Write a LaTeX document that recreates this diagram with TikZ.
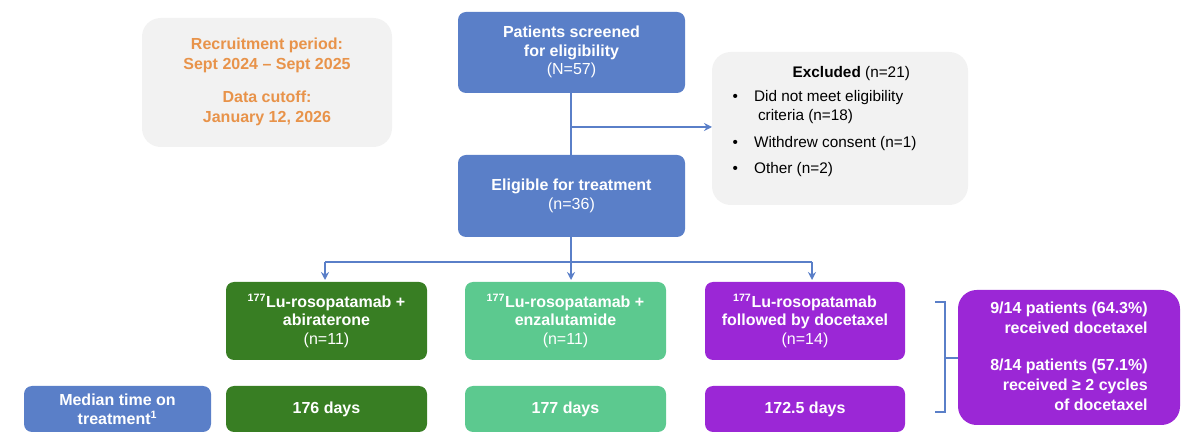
\documentclass[tikz,border=0pt]{standalone}
\usepackage{fontspec}
\setmainfont{Liberation Sans}
\usetikzlibrary{arrows.meta}
\definecolor{bl}{HTML}{5A7FC8}
\definecolor{gr}{HTML}{F2F2F2}
\definecolor{org}{HTML}{E8934A}
\definecolor{dg}{HTML}{387E23}
\definecolor{lg}{HTML}{5CC98F}
\definecolor{pu}{HTML}{9B27D6}
\definecolor{ln}{HTML}{5A7FC8}
\begin{document}
\begin{tikzpicture}[x=0.75pt,y=-0.75pt,
 box/.style={draw=none,rounded corners=6pt,text=white,align=center,font=\fontsize{12}{14}\selectfont},
 arr/.style={draw=ln,line width=1.5pt,-{Stealth[length=6pt,width=6pt]}}]
\useasboundingbox (0,0) rectangle (1200,441);
\fill[gr,rounded corners=14pt] (142,18) rectangle (392,147);
\node[align=center,text=org,font=\fontsize{12}{15}\selectfont\bfseries] (rec) at (267,82)
 {Recruitment period:\\Sept 2024 -- Sept 2025\\[10pt]Data cutoff:\\January 12, 2026};
\fill[bl,rounded corners=6pt] (458,12) rectangle (685,93);
\node[box] (scr) at (571.5,52) {\textbf{Patients screened}\\\textbf{for eligibility}\\(N=57)};
\fill[gr,rounded corners=14pt] (712,52) rectangle (968,205);
\node[align=left,anchor=north west,font=\fontsize{11.5}{14}\selectfont] (exc) at (728,62)
 {\hspace*{45pt}\textbf{Excluded} (n=21)\\[4pt]
 \textbullet\hspace{12pt}Did not meet eligibility\\\hspace*{19pt}criteria (n=18)\\[6pt]
 \textbullet\hspace{12pt}Withdrew consent (n=1)\\[6pt]
 \textbullet\hspace{12pt}Other (n=2)};
\fill[bl,rounded corners=6pt] (458,155) rectangle (685,237);
\node[box] (eli) at (571.5,196) {\textbf{Eligible for treatment}\\(n=36)};
\coordinate (s1) at (571,93); \coordinate (s2) at (571,155);
\coordinate (m) at (571,127); \coordinate (ex) at (712,127);
\draw[draw=ln,line width=1.5pt] (s1) -- (s2);
\draw[arr] (m) -- (ex);
\coordinate (e1) at (571,237); \coordinate (e2) at (571,262);
\coordinate (hl) at (325,262); \coordinate (hr) at (812,262);
\draw[draw=ln,line width=1.5pt] (e1)--(e2) (hl)--(hr);
\coordinate (a1) at (325,280); \coordinate (a2) at (571,280); \coordinate (a3) at (812,280);
\draw[arr] (hl)--(a1); \draw[arr] (e2)--(a2); \draw[arr] (hr)--(a3);
\fill[dg,rounded corners=6pt] (226,282) rectangle (427,360);
\node[box] (g1) at (326.5,321) {\textbf{\textsuperscript{177}Lu-rosopatamab +}\\\textbf{abiraterone}\\(n=11)};
\fill[lg,rounded corners=6pt] (465,282) rectangle (666,360);
\node[box] (g2) at (565.5,321) {\textbf{\textsuperscript{177}Lu-rosopatamab +}\\\textbf{enzalutamide}\\(n=11)};
\fill[pu,rounded corners=6pt] (705,282) rectangle (905,360);
\node[box] (g3) at (805,321) {\textbf{\textsuperscript{177}Lu-rosopatamab}\\\textbf{followed by docetaxel}\\(n=14)};
\fill[bl,rounded corners=6pt] (24,386) rectangle (211,432);
\node[box,font=\fontsize{12}{14}\selectfont\bfseries] (mt) at (117.5,409) {Median time on\\treatment\textsuperscript{1}};
\fill[dg,rounded corners=6pt] (226,386) rectangle (427,432);
\node[box,font=\fontsize{12}{14}\selectfont\bfseries] (d1) at (326.5,409) {176 days};
\fill[lg,rounded corners=6pt] (465,386) rectangle (666,432);
\node[box,font=\fontsize{12}{14}\selectfont\bfseries] (d2) at (565.5,409) {177 days};
\fill[pu,rounded corners=6pt] (705,386) rectangle (905,432);
\node[box,font=\fontsize{12}{14}\selectfont\bfseries] (d3) at (805,409) {172.5 days};
\coordinate (b1) at (935,302); \coordinate (b2) at (945,302);
\coordinate (b3) at (945,412); \coordinate (b4) at (935,412);
\coordinate (bm) at (945,358); \coordinate (bn) at (958,358);
\draw[draw=ln,line width=1.5pt] (b1)--(b2)--(b3)--(b4) (bm)--(bn);
\fill[pu,rounded corners=14pt] (958,290) rectangle (1180,425);
\node[box,align=right,font=\fontsize{12}{15}\selectfont\bfseries] (r1) at (1069,318) {9/14 patients (64.3\%)\\received docetaxel};
\node[box,align=right,font=\fontsize{12}{15}\selectfont\bfseries] (r2) at (1069,385) {8/14 patients (57.1\%)\\received ≥ 2 cycles\\of docetaxel};
\end{tikzpicture}
\end{document}
